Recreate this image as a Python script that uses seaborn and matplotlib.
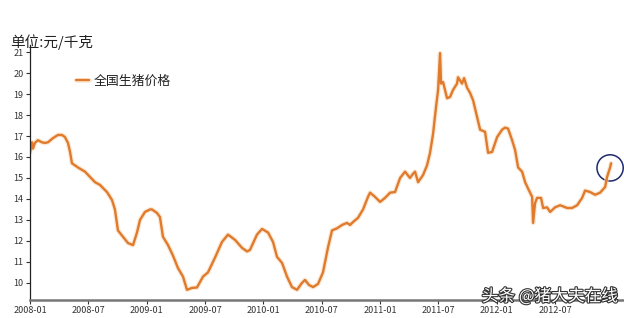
import matplotlib
matplotlib.use("Agg")
import matplotlib.pyplot as plt
import matplotlib.patheffects as pe
from matplotlib.patches import Ellipse
import seaborn as sns
import pandas as pd

# months since 2008-01
months = [0, 0.21, 0.31, 0.51, 0.82, 1.23, 1.54, 1.85, 2.37, 2.88, 3.29, 3.60, 3.91, 4.12, 4.32,
          4.94, 5.66, 6.17, 6.69, 7.20, 7.92, 8.44, 8.74, 9.05, 9.57, 10.08, 10.60, 11.01, 11.32,
          11.83, 12.35, 12.55, 13.07, 13.37, 13.68, 14.20, 14.71, 15.23, 15.74, 16.15, 16.67,
          17.18, 17.80, 18.31, 19.03, 19.75, 20.37, 21.09, 21.81, 22.33, 22.63, 23.35, 23.87,
          24.49, 25.00, 25.41, 25.93, 26.44, 26.95, 27.47, 27.98, 28.29, 28.70, 29.12, 29.63,
          30.14, 30.66, 31.07, 31.58, 32.10, 32.61, 32.92, 33.23, 33.74, 34.26, 34.77, 34.98,
          35.49, 36.01, 36.52, 37.04, 37.55, 38.07, 38.58, 39.09, 39.40, 39.61, 39.92, 40.43,
          40.84, 41.15, 41.46, 41.77, 41.98, 42.18, 42.28, 42.49, 42.90, 43.21, 43.52, 43.93,
          44.03, 44.44, 44.65, 44.96, 45.27, 45.58, 45.99, 46.30, 46.81, 47.12, 47.53, 48.05,
          48.56, 48.87, 49.18, 49.59, 49.90, 50.21, 50.62, 50.93, 51.23, 51.65, 51.75, 51.95,
          52.16, 52.57, 52.78, 53.19, 53.50, 54.01, 54.53, 55.25, 55.76, 56.28, 56.79, 57.10,
          57.61, 58.13, 58.64, 59.16, 59.36, 59.67, 59.77]
price = [16.2, 16.7, 16.4, 16.67, 16.8, 16.7, 16.67, 16.7, 16.9, 17.05, 17.05, 16.95, 16.67, 16.25, 15.7,
         15.5, 15.3, 15.05, 14.8, 14.67, 14.33, 13.95, 13.5, 12.5, 12.2, 11.9, 11.8, 12.4, 13.0,
         13.38, 13.5, 13.5, 13.33, 13.14, 12.2, 11.8, 11.3, 10.7, 10.3, 9.67, 9.76,
         9.78, 10.3, 10.5, 11.2, 11.95, 12.3, 12.05, 11.67, 11.5, 11.57, 12.3, 12.57,
         12.4, 11.95, 11.24, 10.95, 10.3, 9.8, 9.67, 10.0, 10.14, 9.9, 9.8, 9.95,
         10.5, 11.7, 12.5, 12.6, 12.76, 12.86, 12.76, 12.9, 13.1, 13.5, 14.1, 14.3,
         14.1, 13.86, 14.05, 14.3, 14.33, 15.0, 15.3, 15.0, 15.2, 15.3, 14.8, 15.14,
         15.6, 16.2, 17.1, 18.4, 19.2, 20.95, 19.5, 19.57, 18.8, 18.86, 19.2, 19.5,
         19.8, 19.5, 19.76, 19.3, 19.05, 18.7, 17.9, 17.3, 17.2, 16.2, 16.24, 16.95,
         17.3, 17.4, 17.35, 16.8, 16.33, 15.5, 15.3, 14.8, 14.5, 14.1, 12.86, 13.8,
         14.05, 14.05, 13.57, 13.6, 13.38, 13.6, 13.7, 13.57, 13.57, 13.7, 14.05, 14.4,
         14.33, 14.2, 14.3, 14.57, 15.05, 15.5, 15.7]

tick_months = [0, 6, 12, 18, 24, 30, 36, 42, 48, 54]
tick_labels = ["2008-01", "2008-07", "2009-01", "2009-07", "2010-01", "2010-07",
               "2011-01", "2011-07", "2012-01", "2012-07"]
y_ticks = [10, 11, 12, 13, 14, 15, 16, 17, 18, 19, 20, 21]
series_name = "全国生猪价格"

sns.set_theme(style="white")
plt.rcParams['font.family'] = ['Noto Sans CJK SC', 'DejaVu Sans']

df = pd.DataFrame({"month": months, "price": price, "series": series_name})

fig = plt.figure(figsize=(6.24, 3.18), dpi=100)
ax = fig.add_axes([0.048, 0.057, 0.952, 0.801])

line_color = "#E07A2C"
sns.lineplot(data=df, x="month", y="price", ax=ax, color=line_color, linewidth=1.7,
             label=series_name, legend=False)
ax.lines[0].set_path_effects([pe.Stroke(linewidth=3.4, foreground="#F8D9B8", alpha=0.6), pe.Normal()])

ax.set_xlim(0, 61.1)
ax.set_ylim(9.19, 21.33)
ax.set_xticks(tick_months)
ax.set_xticklabels(tick_labels, fontsize=6.5, color="#333333")
ax.set_yticks(y_ticks)
ax.set_yticklabels([str(v) for v in y_ticks], fontsize=6.5, color="#333333")
ax.set_xlabel("")
ax.set_ylabel("")
ax.tick_params(axis="both", length=3, width=0.8, color="#333333", pad=1.5, direction="out")
ax.tick_params(axis="x", bottom=True)
ax.tick_params(axis="y", left=True)

for s in ["top", "right"]:
    ax.spines[s].set_visible(False)
ax.spines["left"].set_color("#222222")
ax.spines["left"].set_linewidth(0.9)
ax.spines["bottom"].set_color("#777777")
ax.spines["bottom"].set_linewidth(1.8)

# legend
leg = ax.legend(loc="center left", bbox_to_anchor=(0.074, 0.859), frameon=False,
                fontsize=9.3, handlelength=1.0, handletextpad=0.35, borderaxespad=0,
                borderpad=0.2)
for t in leg.get_texts():
    t.set_color("#222222")

# unit label
fig.text(0.016, 0.868, "单位:元/千克", fontsize=10.5, color="#222222", va="center", ha="left")

# circle highlight at the end
ax.add_patch(Ellipse((59.67, 15.48), width=2.7, height=1.25, fill=False,
                     edgecolor="#1F2A6B", linewidth=1.1, clip_on=False))

# watermark
fig.text(0.772, 0.067, "头条 @猪大夫在线", fontsize=12, color="white", ha="left", va="center",
         path_effects=[pe.withStroke(linewidth=1.6, foreground="#333333")])

fig.savefig("out.png", dpi=100, facecolor="white")
